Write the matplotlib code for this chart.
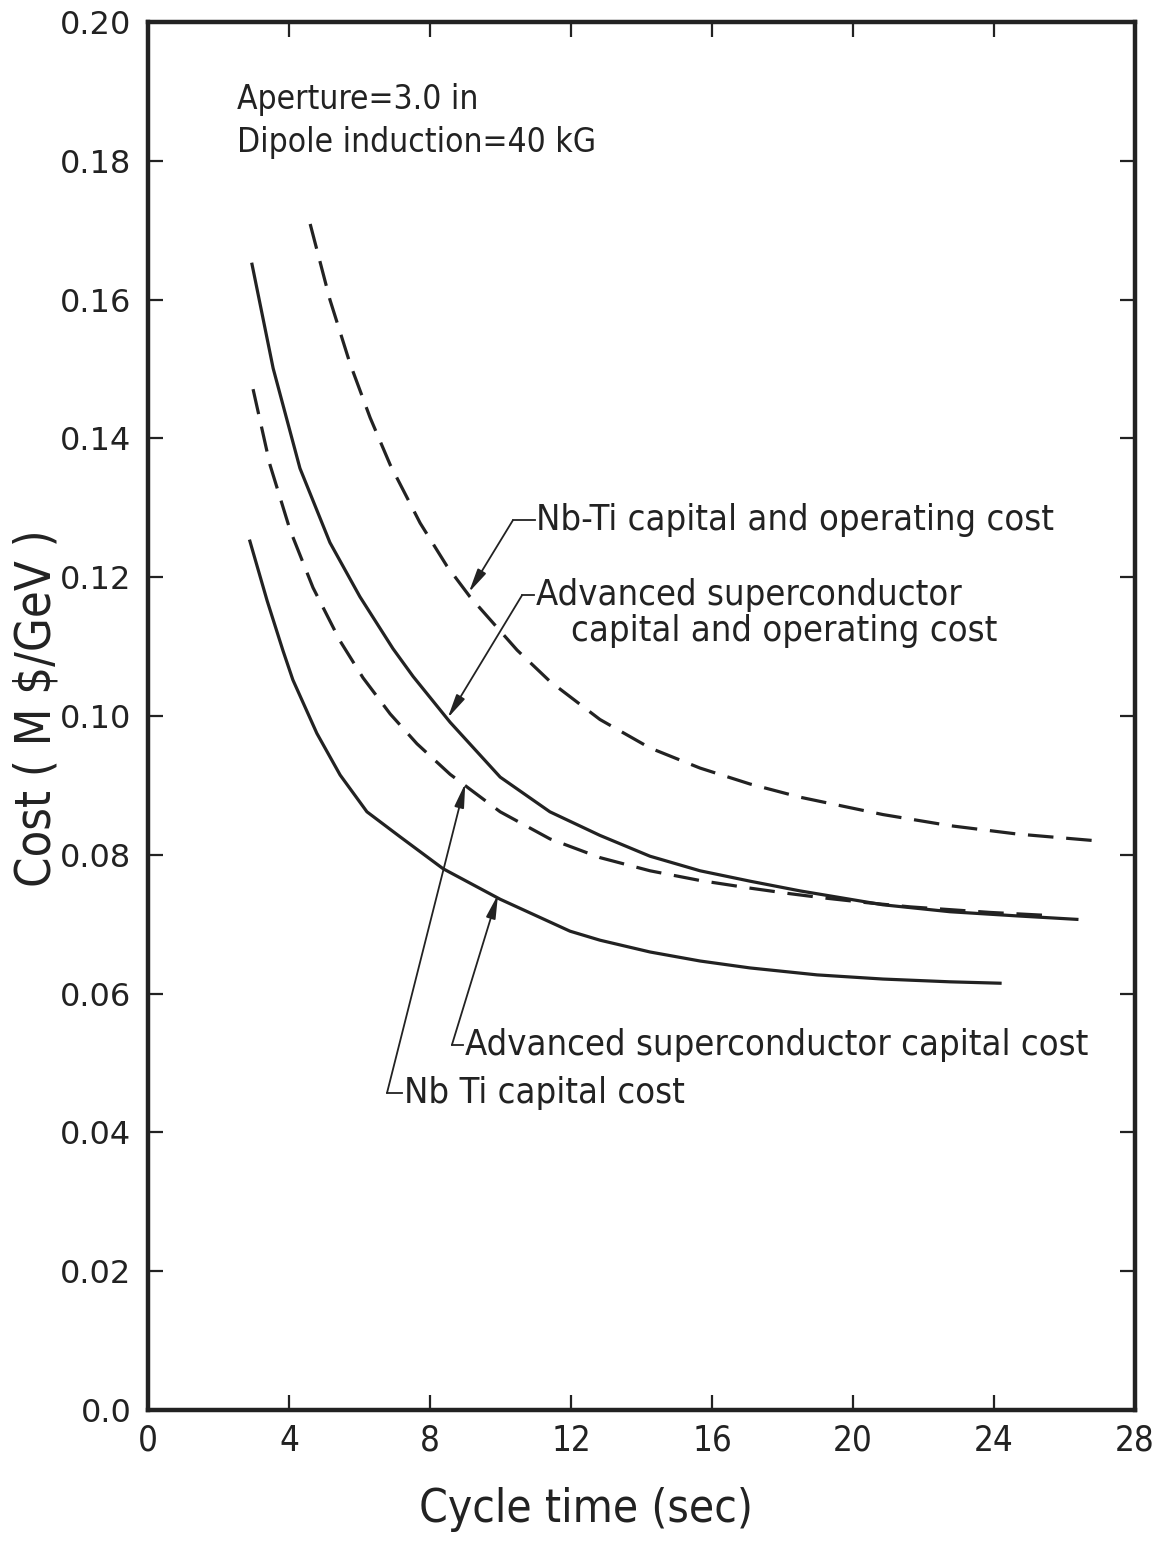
import matplotlib.pyplot as plt

# values: cycle time (sec) vs cost (M$/GeV)
nbti_total_t = [4.60, 5.16, 5.73, 6.30, 6.87, 7.72, 8.48, 9.13, 10.47, 11.40, 12.82, 14.24,
                15.66, 17.08, 18.50, 20.85, 22.75, 24.65, 26.95]
nbti_total_c = [0.1709, 0.1600, 0.1508, 0.1430, 0.1362, 0.1278, 0.1216, 0.1172, 0.1095, 0.1050,
                0.0995, 0.0954, 0.0925, 0.0902, 0.0883, 0.0858, 0.0842, 0.0830, 0.0820]

adv_total_t = [2.95, 3.55, 4.31, 5.16, 6.01, 6.95, 7.52, 8.57, 9.99, 11.40, 12.82, 14.24,
               15.66, 17.08, 18.50, 20.85, 22.75, 24.65, 26.35]
adv_total_c = [0.1651, 0.1501, 0.1357, 0.1250, 0.1172, 0.1097, 0.1057, 0.0991, 0.0912, 0.0862,
               0.0828, 0.0798, 0.0777, 0.0762, 0.0748, 0.0728, 0.0718, 0.0712, 0.0707]

nbti_capital_t = [2.98, 3.46, 4.03, 4.68, 5.45, 6.10, 6.87, 7.63, 8.57, 9.99, 11.40, 12.82,
                  14.24, 15.66, 17.08, 18.21, 19.15, 20.40, 21.62, 23.89, 25.39]
nbti_capital_c = [0.1471, 0.1362, 0.1268, 0.1185, 0.1108, 0.1055, 0.1003, 0.0960, 0.0916, 0.0862,
                  0.0823, 0.0796, 0.0777, 0.0763, 0.0752, 0.0744, 0.0738, 0.0731, 0.0725, 0.0717,
                  0.0713]

adv_capital_t = [2.89, 3.38, 3.83, 4.11, 4.79, 5.45, 6.21, 7.15, 8.37, 9.99, 11.97, 12.82, 14.24,
                 15.66, 17.08, 18.98, 20.85, 22.75, 24.17]
adv_capital_c = [0.1252, 0.1166, 0.1094, 0.1052, 0.0975, 0.0915, 0.0862, 0.0826, 0.0780, 0.0736,
                 0.0690, 0.0677, 0.0660, 0.0647, 0.0637, 0.0627, 0.0621, 0.0617, 0.0615]

x_ticks = [0, 4, 8, 12, 16, 20, 24, 28]
y_ticks = [0.0, 0.02, 0.04, 0.06, 0.08, 0.10, 0.12, 0.14, 0.16, 0.18, 0.20]
y_tick_labels = ['0.0', '0.02', '0.04', '0.06', '0.08', '0.10', '0.12', '0.14', '0.16', '0.18', '0.20']

ink = '#222222'
narrow = dict(family='DejaVu Sans', stretch='condensed')

fig = plt.figure(figsize=(11.71, 15.41), dpi=100)
ax = fig.add_axes([0.1264, 0.0850, 0.8429, 0.9007])

lw = 2.3
ax.plot(nbti_total_t, nbti_total_c, color=ink, lw=lw, dashes=(8, 4))
ax.plot(adv_total_t, adv_total_c, color=ink, lw=lw)
ax.plot(nbti_capital_t, nbti_capital_c, color=ink, lw=lw, dashes=(8, 4))
ax.plot(adv_capital_t, adv_capital_c, color=ink, lw=lw)

ax.set_xlim(0, 28)
ax.set_ylim(0, 0.20)
ax.set_xticks(x_ticks)
ax.set_xticklabels([str(t) for t in x_ticks], fontsize=25, **narrow)
ax.set_yticks(y_ticks)
ax.set_yticklabels(y_tick_labels, family='DejaVu Sans', fontsize=23)
ax.tick_params(direction='in', top=True, right=True, length=11, width=1.6, color=ink,
               labelcolor=ink)
ax.tick_params(axis='x', pad=10)
ax.tick_params(axis='y', pad=12)
for sp in ax.spines.values():
    sp.set_linewidth(3.2)
    sp.set_color(ink)

ax.set_xlabel('Cycle time (sec)', fontsize=33, color=ink, **narrow)
ax.xaxis.set_label_coords(0.444, -0.0555)
ax.set_ylabel('Cost ( M \\$/GeV )', fontsize=35, color=ink, **narrow)
ax.yaxis.set_label_coords(-0.089, 0.506)

top_txt = dict(fontsize=24, color=ink, va='center', ha='left', **narrow)
ax.text(2.52, 0.1888, 'Aperture=3.0 in', **top_txt)
ax.text(2.52, 0.1826, 'Dipole induction=40 kG', **top_txt)

txt = dict(fontsize=26, color=ink, va='center', ha='left', **narrow)
arrow = dict(arrowstyle='-|>,head_length=0.9,head_width=0.18', color=ink, lw=1.3,
             mutation_scale=16, shrinkA=0, shrinkB=0)


def label(text, tip, corner, text_xy):
    ax.annotate('', xy=tip, xytext=corner, arrowprops=arrow)
    ax.plot([corner[0], text_xy[0] - 0.05], [corner[1], corner[1]], color=ink, lw=1.3)
    ax.text(text_xy[0], text_xy[1], text, **txt)


label('Nb-Ti capital and operating cost', (9.1, 0.1178), (10.35, 0.1282), (11.02, 0.1282))
label('Advanced superconductor', (8.5, 0.0997), (10.61, 0.1174), (11.0, 0.1174))
ax.text(12.0, 0.1122, 'capital and operating cost', **txt)
label('Advanced superconductor capital cost', (9.93, 0.0743), (8.62, 0.0526), (8.98, 0.0526))
label('Nb Ti capital cost', (9.0, 0.0903), (6.78, 0.0457), (7.25, 0.0457))

fig.savefig('out.png', dpi=100)
